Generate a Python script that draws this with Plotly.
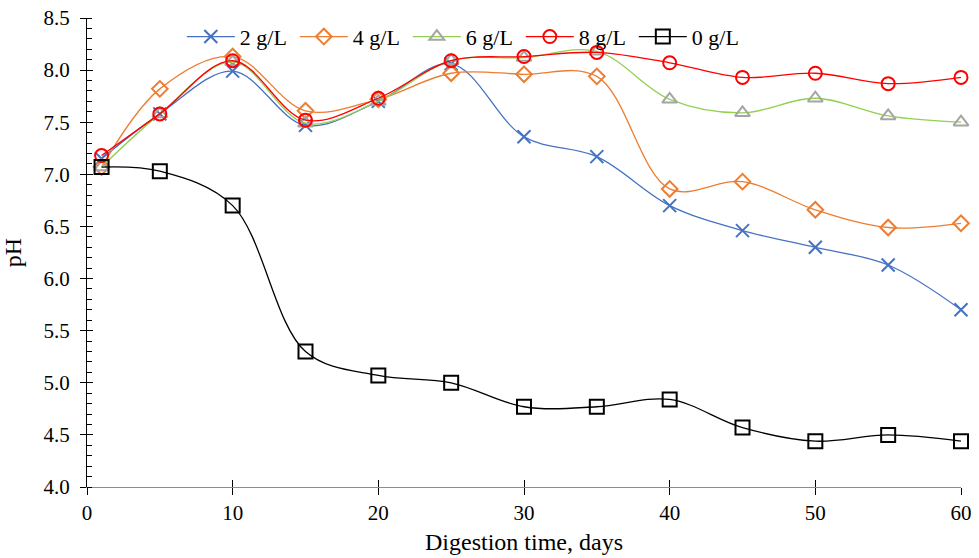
import plotly.graph_objects as go

days = [1, 5, 10, 15, 20, 25, 30, 35, 40, 45, 50, 55, 60]
ph_2 = [7.15, 7.58, 7.99, 7.47, 7.70, 8.06, 7.36, 7.17, 6.70, 6.46, 6.30, 6.13, 5.70]
ph_4 = [7.07, 7.82, 8.13, 7.61, 7.72, 7.97, 7.96, 7.94, 6.86, 6.93, 6.66, 6.49, 6.53]
ph_6 = [7.07, 7.58, 8.08, 7.49, 7.70, 8.09, 8.12, 8.18, 7.72, 7.59, 7.73, 7.56, 7.50]
ph_8 = [7.18, 7.58, 8.09, 7.52, 7.73, 8.09, 8.13, 8.17, 8.07, 7.93, 7.97, 7.87, 7.93]
ph_0 = [7.07, 7.03, 6.70, 5.30, 5.07, 5.00, 4.77, 4.77, 4.84, 4.57, 4.44, 4.50, 4.44]

x_ticks = [0, 10, 20, 30, 40, 50, 60]
y_ticks = [4.0, 4.5, 5.0, 5.5, 6.0, 6.5, 7.0, 7.5, 8.0, 8.5]

series = [
    ("2 g/L", ph_2, "#4472C4", "#4472C4", "x-thin-open", 13),
    ("4 g/L", ph_4, "#ED7D31", "#ED7D31", "diamond-open", 12),
    ("6 g/L", ph_6, "#92D050", "#A5A5A5", "triangle-up-open", 13),
    ("8 g/L", ph_8, "#FF0000", "#FF0000", "circle-open", 13),
    ("0 g/L", ph_0, "#000000", "#000000", "square-open", 14),
]

fig = go.Figure()
for name, vals, lc, mc, sym, sz in series:
    fig.add_trace(go.Scatter(
        x=days, y=vals, name=name, mode="lines+markers",
        line=dict(color=lc, width=1.3, shape="spline", smoothing=1.0),
        marker=dict(symbol=sym, size=sz, color=mc, line=dict(color=mc, width=2)),
        cliponaxis=False,
    ))

# empty helper trace so the overlay axes (inner halves of the crossing ticks) are drawn
fig.add_trace(go.Scatter(x=[], y=[], xaxis="x2", yaxis="y2", showlegend=False,
                         hoverinfo="skip"))

font_family = "Liberation Serif, Times New Roman, serif"
fig.update_layout(
    width=979, height=558,
    margin=dict(l=87, r=18, t=18, b=71, autoexpand=False),
    paper_bgcolor="white", plot_bgcolor="white",
    font=dict(family=font_family, size=21, color="black"),
    showlegend=True,
    legend=dict(orientation="h", x=0.1085, y=0.96, xanchor="left", yanchor="middle",
                font=dict(size=22), bgcolor="rgba(0,0,0,0)", itemwidth=48,
                entrywidth=50, entrywidthmode="pixels",
                traceorder="normal"),
    xaxis=dict(range=[0, 60], tickvals=x_ticks, ticks="outside", ticklen=7,
               tickcolor="black", showline=True, linecolor="#8c8c8c", linewidth=1,
               showgrid=False, zeroline=False, automargin=False,
               title=dict(text="Digestion time, days", font=dict(size=24), standoff=8)),
    yaxis=dict(range=[4.0, 8.5], tickvals=y_ticks, tickformat=".1f", ticks="outside",
               ticklen=6, tickcolor="black", showline=True, linecolor="black", linewidth=1,
               showgrid=False, zeroline=False, automargin=False, ticklabelstandoff=6,
               minor=dict(dtick=0.1, ticks="inside", ticklen=5, tickcolor="black", showgrid=False),
               title=dict(text="pH", font=dict(size=24), standoff=20)),
    xaxis2=dict(range=[0, 60], tickvals=x_ticks, ticks="inside", ticklen=7, tickcolor="black",
                showticklabels=False, showline=False, showgrid=False, zeroline=False,
                overlaying="x", anchor="y2", side="bottom"),
    yaxis2=dict(range=[4.0, 8.5], tickvals=y_ticks, ticks="inside", ticklen=6, tickcolor="black",
                showticklabels=False, showline=False, showgrid=False, zeroline=False,
                overlaying="y", anchor="x2", side="left"),
)

fig.write_html("out.html", config={"displayModeBar": False},
               post_script="document.body.style.margin='0';")
